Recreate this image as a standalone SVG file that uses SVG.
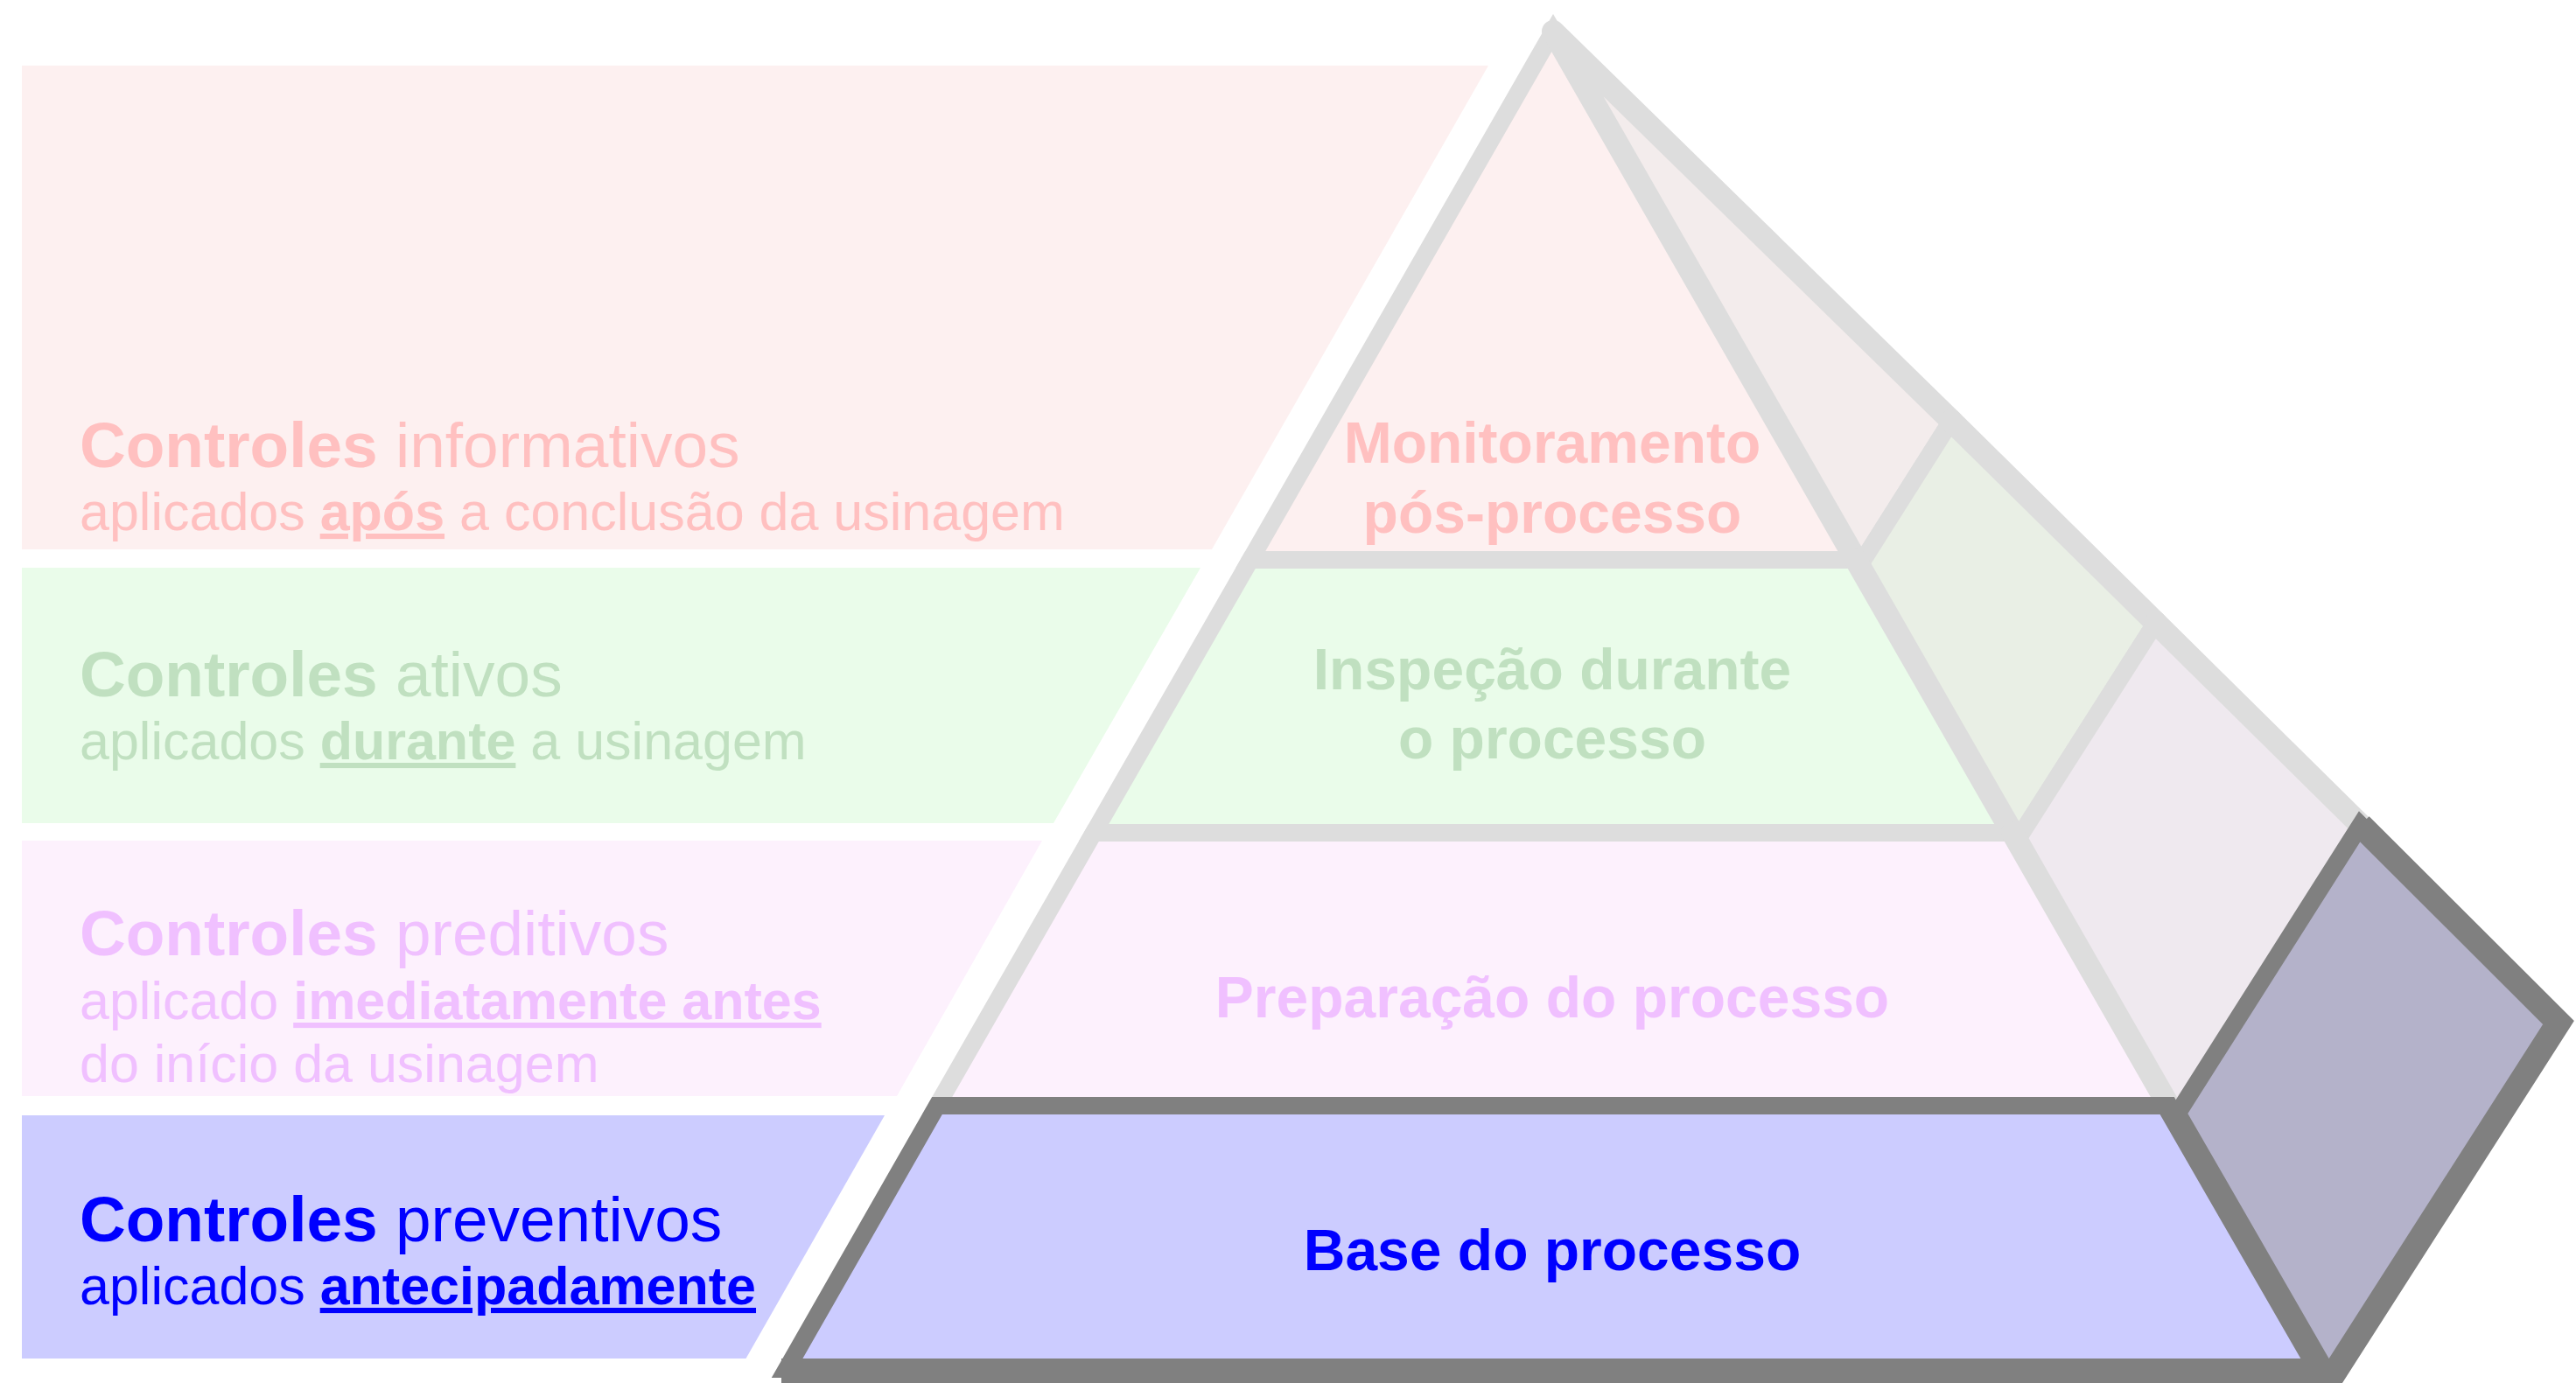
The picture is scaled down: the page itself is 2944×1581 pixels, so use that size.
<svg xmlns="http://www.w3.org/2000/svg" width="2944" height="1581" viewBox="0 0 2944 1581">
  <style>
    text { font-family: "Liberation Sans", Arial, Helvetica, sans-serif; }
    .h { font-size: 73px; }
    .s { font-size: 61px; }
    .lbl { font-size: 66px; font-weight: bold; text-anchor: middle; }
    .b { font-weight: bold; }
    .u { text-decoration: underline; }
    .lt { stroke: #DDDDDD; stroke-width: 20; stroke-linejoin: miter; }
    .lto { fill: none; stroke: #DDDDDD; stroke-width: 26; stroke-linecap: round; stroke-linejoin: miter; }
    .dk { stroke: #808080; stroke-width: 20; stroke-linejoin: miter; }
    .dko { fill: none; stroke: #808080; stroke-width: 28; stroke-linecap: butt; stroke-linejoin: miter; }
  </style>
  <rect x="0" y="0" width="2944" height="1581" fill="#FFFFFF"/>

  <!-- Tier 1: informativos / Monitoramento pós-processo -->
  <g id="tier-informativos">
    <polygon points="25,75 1701,75 1385,628 25,628" fill="#FDF0F0"/>
    <polygon class="lt" points="1775,36 2125,647 2230,481" fill="#F3ECEC"/>
    <polygon class="lt" points="1775,36 2121,640 1429,640" fill="#FDF0F0"/>
    <path class="lto" d="M 2125,647 L 1775,36 M 1775,36 L 2230,481"/>
    <text x="91" y="534" class="h" fill="#FFC0C0"><tspan class="b">Controles</tspan> informativos</text>
    <text x="91" y="606" class="s" fill="#FFC0C0">aplicados <tspan class="b u">após</tspan> a conclusão da usinagem</text>
    <text x="1774" y="529" class="lbl" fill="#FFC0C0">Monitoramento</text>
    <text x="1774" y="609" class="lbl" fill="#FFC0C0">pós-processo</text>
  </g>

  <!-- Tier 2: ativos / Inspeção durante o processo -->
  <g id="tier-ativos">
    <polygon points="25,649 1372,649 1204,941 25,941" fill="#EAFCEA"/>
    <polygon class="lt" points="2125,647 2305,961 2463.6,711.8 2230,481" fill="#E9EFE5"/>
    <polygon class="lt" points="1429,640 2121,640 2300,952 1250,952" fill="#EAFCEA"/>
    <path class="lto" d="M 2121,640 L 2305,961 M 2230,481 L 2463.6,711.8"/>
    <text x="91" y="796" class="h" fill="#C0E0C0"><tspan class="b">Controles</tspan> ativos</text>
    <text x="91" y="868" class="s" fill="#C0E0C0">aplicados <tspan class="b u">durante</tspan> a usinagem</text>
    <text x="1774" y="788" class="lbl" fill="#C0E0C0">Inspeção durante</text>
    <text x="1774" y="867" class="lbl" fill="#C0E0C0">o processo</text>
  </g>

  <!-- Tier 3: preditivos / Preparação do processo -->
  <g id="tier-preditivos">
    <polygon points="25,961 1191,961 1025,1253 25,1253" fill="#FDF1FD"/>
    <polygon class="lt" points="2305,961 2486,1277 2697.7,943.1 2463.6,711.8" fill="#EFE9EF"/>
    <polygon class="lt" points="1250,952 2300,952 2479,1264 1071,1264" fill="#FDF1FD"/>
    <path class="lto" d="M 2300,952 L 2486,1277 M 2463.6,711.8 L 2697.7,943.1"/>
    <text x="91" y="1092" class="h" fill="#F0C0FF"><tspan class="b">Controles</tspan> preditivos</text>
    <text x="91" y="1165" class="s" fill="#F0C0FF">aplicado <tspan class="b u">imediatamente antes</tspan></text>
    <text x="91" y="1237" class="s" fill="#F0C0FF">do início da usinagem</text>
    <text x="1774" y="1163" class="lbl" fill="#F0C0FF">Preparação do processo</text>
  </g>

  <!-- Tier 4: preventivos / Base do processo -->
  <g id="tier-preventivos">
    <polygon points="25,1275 1011,1275 852.5,1553 25,1553" fill="#CCCCFF"/>
    <polygon class="dk" points="2486,1277 2661,1580 2924,1169 2697.7,943.1" fill="#B4B2CA"/>
    <polygon class="dk" points="1071,1264 2479,1264 2651,1565 899,1565" fill="#CCCCFF"/>
    <path class="dko" d="M 2479,1264 L 2661,1580 L 2924,1169 L 2697.7,943.1"/>
    <path class="dko" d="M 893,1567 L 2655,1567"/>
    <text x="91" y="1419" class="h" fill="#0000FF"><tspan class="b">Controles</tspan> preventivos</text>
    <text x="91" y="1491" class="s" fill="#0000FF">aplicados <tspan class="b u">antecipadamente</tspan></text>
    <text x="1774" y="1452" class="lbl" fill="#0000FF">Base do processo</text>
  </g>
</svg>
